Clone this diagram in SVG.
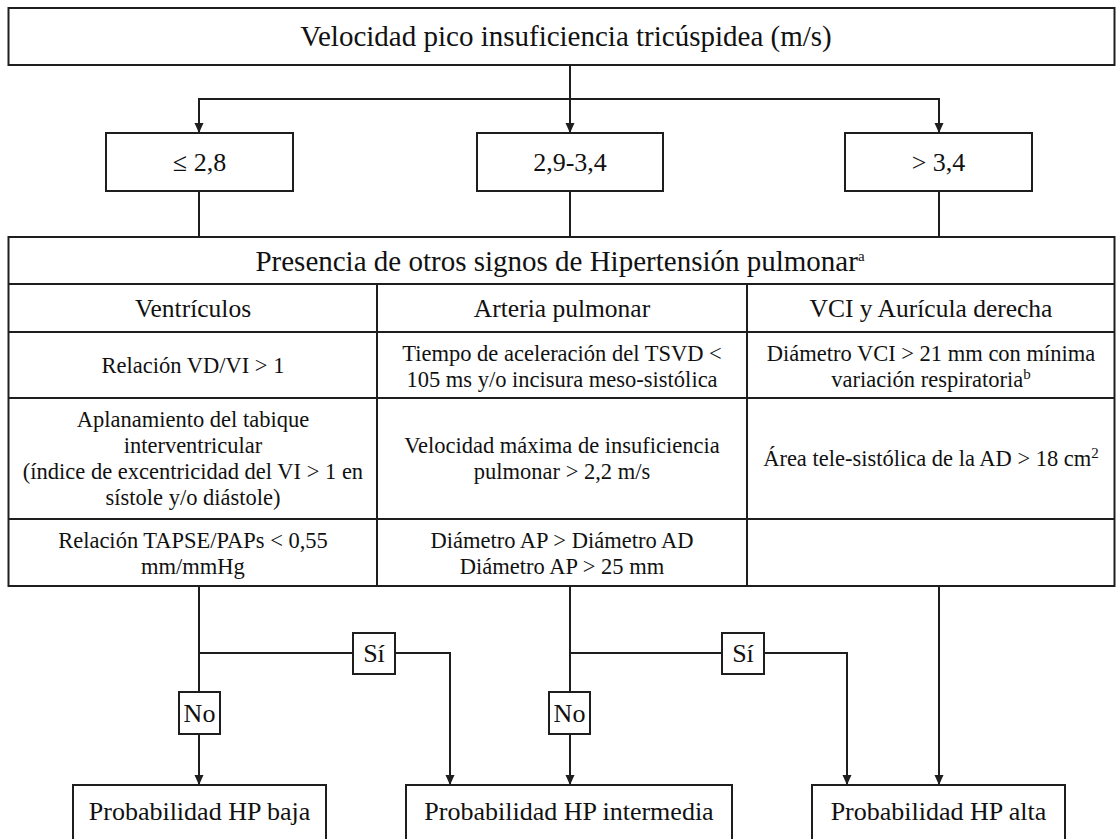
<svg xmlns="http://www.w3.org/2000/svg" width="1118" height="839" viewBox="0 0 1118 839">
<style>
.box{fill:#fff;stroke:#1e1e1e;stroke-width:2}
.ln{fill:none;stroke:#1e1e1e;stroke-width:2}
text{font-family:"Liberation Serif","Times New Roman",serif;fill:#111;text-anchor:middle}
.t1{font-size:29px}
.t2{font-size:25.5px}
.t3{font-size:22.5px}
.t4{font-size:26px}
.sup{font-size:15px}
</style>
<defs>
<marker id="ah" markerUnits="userSpaceOnUse" markerWidth="10" markerHeight="10" refX="10" refY="4.5" orient="auto">
<path d="M0,0 L10,4.5 L0,9 z" fill="#1e1e1e"/>
</marker>
</defs>
<g id="connectors">
<path class="ln" d="M570,65 V133" marker-end="url(#ah)"/>
<path class="ln" d="M570,99 H199 V133" marker-end="url(#ah)"/>
<path class="ln" d="M570,99 H939 V133" marker-end="url(#ah)"/>
<path class="ln" d="M199,191 V237 M570,191 V237 M939,191 V237"/>
<path class="ln" d="M199,586 V692 M199,653 H353"/>
<path class="ln" d="M199,734 V785" marker-end="url(#ah)"/>
<path class="ln" d="M395,653 H450 V785" marker-end="url(#ah)"/>
<path class="ln" d="M570,586 V692 M570,653 H722"/>
<path class="ln" d="M570,734 V785" marker-end="url(#ah)"/>
<path class="ln" d="M764,653 H847 V785" marker-end="url(#ah)"/>
<path class="ln" d="M939,586 V785" marker-end="url(#ah)"/>
</g>
<g id="title">
<rect class="box" x="8.5" y="8" width="1106" height="57"/>
<text class="t1" x="566" y="46">Velocidad pico insuficiencia tricúspidea (m/s)</text>
</g>
<g id="v-low">
<rect class="box" x="106" y="133" width="187" height="58"/>
<text class="t4" x="199.5" y="171">≤ 2,8</text>
</g>
<g id="v-mid">
<rect class="box" x="477" y="133" width="186" height="58"/>
<text class="t4" x="570" y="171">2,9-3,4</text>
</g>
<g id="v-high">
<rect class="box" x="845" y="133" width="187" height="58"/>
<text class="t4" x="938.5" y="171">&gt; 3,4</text>
</g>
<g id="signs-table">
<rect class="box" x="8.5" y="237" width="1106" height="349"/>
<path class="ln" d="M8.5,284 H1114.5 M8.5,332 H1114.5 M8.5,398 H1114.5 M8.5,519 H1114.5 M377,284 V586 M747,284 V586"/>
<text class="t1" x="560" y="271">Presencia de otros signos de Hipertensión pulmonar<tspan class="sup" dy="-10">a</tspan></text>
<text class="t2" x="193" y="317">Ventrículos</text>
<text class="t2" x="562" y="317">Arteria pulmonar</text>
<text class="t2" x="931" y="317">VCI y Aurícula derecha</text>
<text class="t3" x="193" y="373">Relación VD/VI &gt; 1</text>
<text class="t3" x="562" y="361">Tiempo de aceleración del TSVD &lt;</text>
<text class="t3" x="562" y="387">105 ms y/o incisura meso-sistólica</text>
<text class="t3" x="931" y="361">Diámetro VCI &gt; 21 mm con mínima</text>
<text class="t3" x="931" y="387">variación respiratoria<tspan class="sup" dy="-8">b</tspan></text>
<text class="t3" x="193" y="427">Aplanamiento del tabique</text>
<text class="t3" x="193" y="453">interventricular</text>
<text class="t3" x="193" y="479">(índice de excentricidad del VI &gt; 1 en</text>
<text class="t3" x="193" y="505">sístole y/o diástole)</text>
<text class="t3" x="562" y="453">Velocidad máxima de insuficiencia</text>
<text class="t3" x="562" y="479">pulmonar &gt; 2,2 m/s</text>
<text class="t3" x="931" y="466">Área tele-sistólica de la AD &gt; 18 cm<tspan class="sup" dy="-8">2</tspan></text>
<text class="t3" x="193" y="548">Relación TAPSE/PAPs &lt; 0,55</text>
<text class="t3" x="193" y="574">mm/mmHg</text>
<text class="t3" x="562" y="548">Diámetro AP &gt; Diámetro AD</text>
<text class="t3" x="562" y="574">Diámetro AP &gt; 25 mm</text>
</g>
<g id="si-1">
<rect class="box" x="353" y="633" width="42" height="41"/>
<text class="t4" x="374" y="662">Sí</text>
</g>
<g id="no-1">
<rect class="box" x="179" y="692" width="41" height="42"/>
<text class="t4" x="199.5" y="722">No</text>
</g>
<g id="si-2">
<rect class="box" x="722" y="633" width="42" height="41"/>
<text class="t4" x="743" y="662">Sí</text>
</g>
<g id="no-2">
<rect class="box" x="549" y="692" width="41" height="42"/>
<text class="t4" x="569.5" y="722">No</text>
</g>
<g id="p-low">
<rect class="box" x="73" y="785" width="253" height="70"/>
<text class="t4" x="199.5" y="820">Probabilidad HP baja</text>
</g>
<g id="p-mid">
<rect class="box" x="406" y="785" width="326" height="70"/>
<text class="t4" x="569" y="820">Probabilidad HP intermedia</text>
</g>
<g id="p-high">
<rect class="box" x="812" y="785" width="253" height="70"/>
<text class="t4" x="938.5" y="820">Probabilidad HP alta</text>
</g>
</svg>
